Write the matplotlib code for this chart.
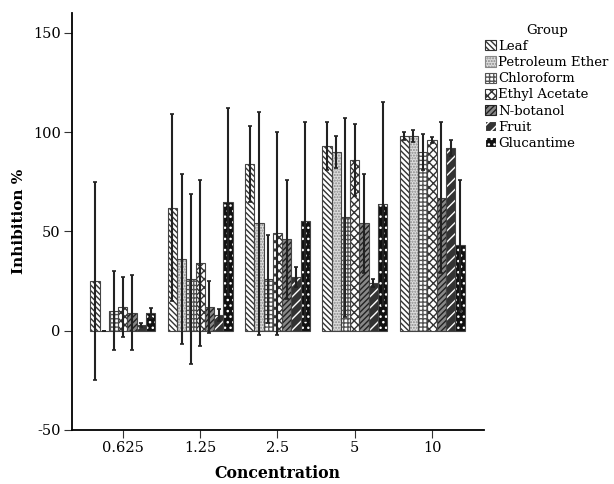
import numpy as np
import matplotlib
matplotlib.use("Agg")
import matplotlib.pyplot as plt

plt.rcParams['font.family'] = ['DejaVu Serif']
plt.rcParams['hatch.linewidth'] = 1.0
plt.rcParams['axes.unicode_minus'] = False

concentrations = ['0.625', '1.25', '2.5', '5', '10']
groups = ['Leaf', 'Petroleum Ether', 'Chloroform', 'Ethyl Acetate',
          'N-botanol', 'Fruit', 'Glucantime']

# mean inhibition % per group, one value per concentration
leaf = [25, 62, 84, 93, 98]
petroleum = [0, 36, 54, 90, 98]
chloroform = [10, 26, 26, 57, 90]
ethyl = [12, 34, 49, 86, 96]
nbotanol = [9, 12, 46, 54, 67]
fruit = [3, 8, 27, 24, 92]
glucantime = [9, 65, 55, 64, 43]

leaf_err = [50, 47, 19, 12, 2]
petroleum_err = [0, 43, 56, 8, 3]
chloroform_err = [20, 43, 22, 50, 9]
ethyl_err = [15, 42, 51, 18, 1.5]
nbotanol_err = [19, 13, 30, 25, 38]
fruit_err = [1, 3, 5, 2, 4]
glucantime_err = [2.5, 47, 50, 51, 33]

values = [leaf, petroleum, chloroform, ethyl, nbotanol, fruit, glucantime]
errors = [leaf_err, petroleum_err, chloroform_err, ethyl_err,
          nbotanol_err, fruit_err, glucantime_err]

# face colour, hatch colour, hatch
styles = [
    ('white', '#333333', '\\\\\\\\\\\\'),
    ('#dddddd', '#888888', '......'),
    ('white', '#555555', '++++'),
    ('white', '#333333', 'xxxx'),
    ('#888888', '#222222', '//////'),
    ('#333333', 'white', '///'),
    ('#111111', 'white', '...'),
]

fig = plt.figure(figsize=(6.14, 4.84), dpi=100)
ax = fig.add_axes([0.117, 0.112, 0.671, 0.861])

x = np.arange(len(concentrations))
n = len(groups)
w = 0.84 / n

handles = []
for i in range(n):
    pos = x - 0.42 + w / 2 + i * w
    fc, hc, h = styles[i]
    ax.bar(pos, values[i], w, color=fc, edgecolor=hc, hatch=h, linewidth=0, zorder=2)
    ax.bar(pos, values[i], w, fill=False, edgecolor='#444444', linewidth=0.8,
           zorder=3)
    ax.errorbar(pos, values[i], yerr=errors[i], fmt='none', ecolor='#222222',
                elinewidth=1.5, capsize=1.5, capthick=1.2, zorder=4)
    proxy = plt.Rectangle((0, 0), 1, 1, facecolor=fc, edgecolor=hc, hatch=h,
                          linewidth=0.8)
    handles.append(proxy)

ax.set_xlim(-0.66, 4.67)
ax.set_ylim(-50, 160)
ax.set_yticks([-50, 0, 50, 100, 150])
ax.set_xticks(x)
ax.set_xticklabels(concentrations)
ax.spines['top'].set_visible(False)
ax.spines['right'].set_visible(False)
ax.spines['left'].set_bounds(-50, 160)
ax.spines['left'].set_linewidth(1.3)
ax.spines['bottom'].set_linewidth(1.3)
ax.tick_params(labelsize=10.5, length=6, color='#333333', pad=2)
ax.set_ylabel('Inhibition %', fontsize=11, fontweight='bold', labelpad=5)
ax.set_xlabel('Concentration', fontsize=11.3, fontweight='bold', labelpad=7)

leg = ax.legend(handles, groups, title='Group', loc='upper left',
                bbox_to_anchor=(0.99, 0.987), frameon=False, fontsize=9.5,
                title_fontsize=9.5, handlelength=0.8, handleheight=0.8,
                handletextpad=0.2, labelspacing=0.24, borderaxespad=0.0)

fig.savefig('out.png', dpi=100)
